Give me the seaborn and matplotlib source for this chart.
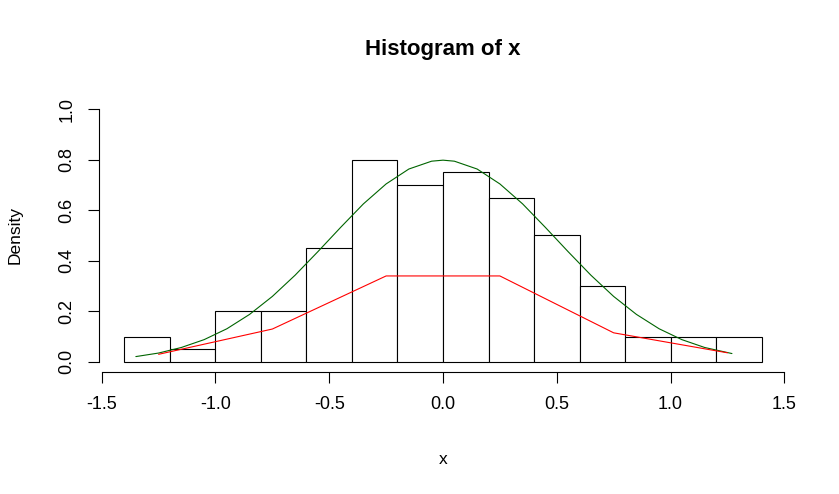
import numpy as np
import pandas as pd
import matplotlib
matplotlib.use("Agg")
import matplotlib.pyplot as plt
import seaborn as sns

# histogram bins (breaks) and densities
bin_edges = [-1.4, -1.2, -1.0, -0.8, -0.6, -0.4, -0.2, 0.0, 0.2, 0.4, 0.6, 0.8, 1.0, 1.2, 1.4]
densities = [0.1, 0.05, 0.2, 0.2, 0.45, 0.8, 0.7, 0.75, 0.65, 0.5, 0.3, 0.1, 0.1, 0.1]

# green curve
green_x = [-1.35, -1.25, -1.15, -1.05, -0.95, -0.85, -0.75, -0.65, -0.55, -0.45, -0.35,
           -0.25, -0.15, -0.05, 0.0, 0.05, 0.15, 0.25, 0.35, 0.45, 0.55, 0.65, 0.75, 0.85,
           0.95, 1.05, 1.15, 1.27]
green_y = [0.021, 0.035, 0.057, 0.088, 0.131, 0.188, 0.259, 0.343, 0.436, 0.532, 0.625,
           0.704, 0.763, 0.794, 0.798, 0.794, 0.763, 0.704, 0.625, 0.532, 0.436, 0.343, 0.259, 0.188,
           0.131, 0.088, 0.057, 0.033]

# red polyline
red_x = [-1.25, -0.75, -0.25, 0.25, 0.75, 1.25]
red_y = [0.03, 0.13, 0.34, 0.34, 0.115, 0.036]

x_ticks = [-1.5, -1.0, -0.5, 0.0, 0.5, 1.0, 1.5]
y_ticks = [0.0, 0.2, 0.4, 0.6, 0.8, 1.0]

sns.set_style("ticks")
plt.rcParams['font.family'] = ['Liberation Sans', 'DejaVu Sans']
plt.rcParams['text.color'] = 'black'
plt.rcParams['axes.labelcolor'] = 'black'
plt.rcParams['xtick.color'] = 'black'
plt.rcParams['ytick.color'] = 'black'
plt.rcParams['axes.edgecolor'] = 'black'

fig = plt.figure(figsize=(8.39, 4.94), dpi=100)
ax = fig.add_axes([99 / 839, 1 - 372 / 494, 688 / 839, 273 / 494])

centers = [(a + b) / 2 for a, b in zip(bin_edges[:-1], bin_edges[1:])]
hist_df = pd.DataFrame({"x": centers, "w": densities})
sns.histplot(data=hist_df, x="x", weights="w", bins=bin_edges, stat="count",
             color="white", edgecolor="black", linewidth=0.8, alpha=1, ax=ax)

sns.lineplot(x=green_x, y=green_y, color="#006400", linewidth=0.8, estimator=None, ax=ax)
sns.lineplot(x=red_x, y=red_y, color="red", linewidth=0.8, estimator=None, ax=ax)

ax.set_xlim(-1.512, 1.512)
ax.set_ylim(-0.04, 1.04)
ax.set_xticks(x_ticks)
ax.set_xticklabels([f"{v:.1f}" for v in x_ticks])
ax.set_yticks(y_ticks)
ax.set_yticklabels([f"{v:.1f}" for v in y_ticks], rotation=90, va="center")
ax.tick_params(axis="both", direction="out", length=8, width=0.8, labelsize=13, pad=9)

for s in ["top", "right"]:
    ax.spines[s].set_visible(False)
ax.spines["left"].set_bounds(0, 1)
ax.spines["bottom"].set_bounds(-1.5, 1.5)
ax.spines["left"].set_linewidth(0.8)
ax.spines["bottom"].set_linewidth(0.8)

ax.set_xlabel("x", fontsize=12.5, labelpad=28)
ax.set_ylabel("Density", fontsize=12.5, labelpad=26)
fig.text(443 / 839, 1 - 50 / 494, "Histogram of x", ha="center", va="center",
         fontsize=16, fontweight="bold")

fig.savefig("out.png", dpi=100)
